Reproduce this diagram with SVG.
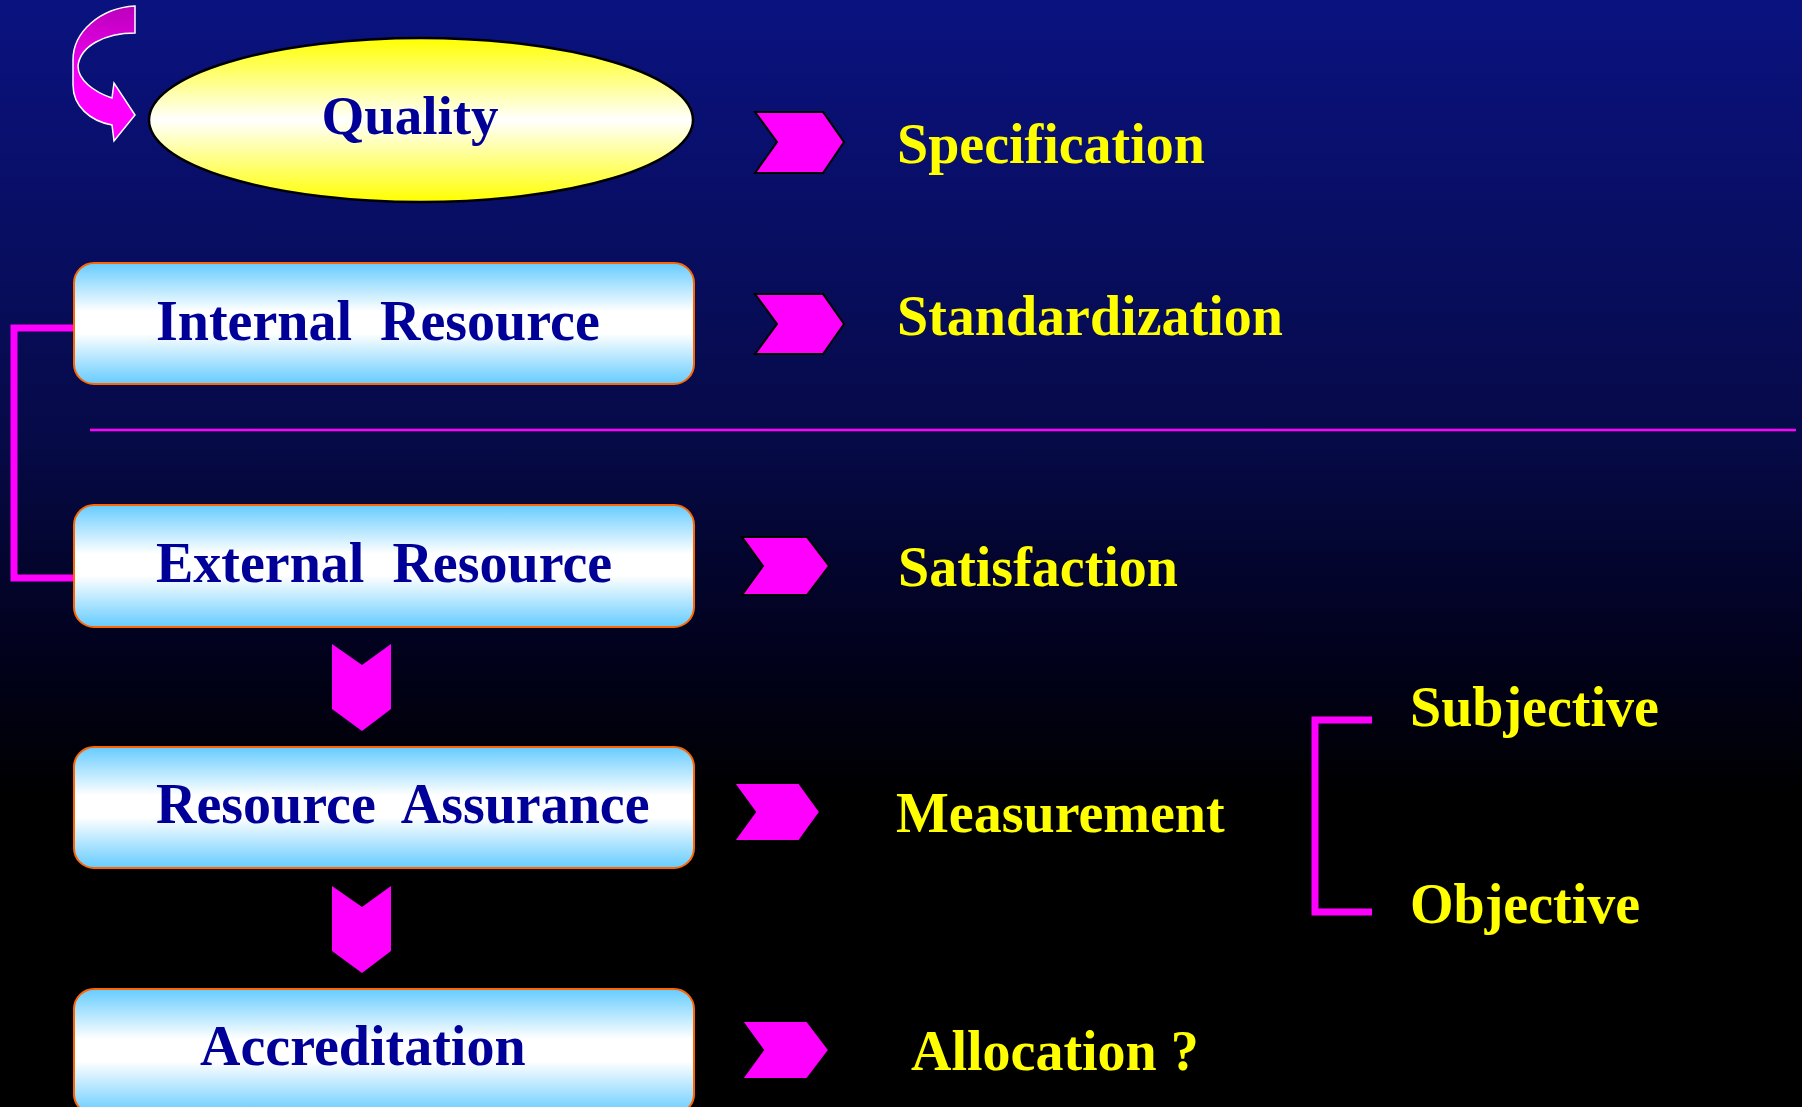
<svg xmlns="http://www.w3.org/2000/svg" width="1802" height="1107" viewBox="0 0 1802 1107">
<defs>
<linearGradient id="bg" x1="0" y1="0" x2="0" y2="1107" gradientUnits="userSpaceOnUse">
<stop offset="0" stop-color="#0A1280"/>
<stop offset="0.39" stop-color="#060A48"/>
<stop offset="0.6" stop-color="#01011A"/>
<stop offset="0.72" stop-color="#000000"/>
<stop offset="1" stop-color="#000000"/>
</linearGradient>
<linearGradient id="ell" x1="0" y1="0" x2="0" y2="1">
<stop offset="0" stop-color="#FFFF00"/>
<stop offset="0.5" stop-color="#FFFFFF"/>
<stop offset="1" stop-color="#FFFF00"/>
</linearGradient>
<linearGradient id="box" x1="0" y1="0" x2="0" y2="1">
<stop offset="0" stop-color="#66CCFF"/>
<stop offset="0.4" stop-color="#FFFFFF"/>
<stop offset="0.58" stop-color="#FFFFFF"/>
<stop offset="1" stop-color="#66CCFF"/>
</linearGradient>
<linearGradient id="curv" x1="0" y1="0" x2="0" y2="1">
<stop offset="0" stop-color="#BB00BB"/>
<stop offset="0.6" stop-color="#FF00FF"/>
<stop offset="1" stop-color="#FF00FF"/>
</linearGradient>
</defs>
<style>
.box{fill:url(#box);stroke:#FF6600;stroke-width:2}
.bt{font-family:"Liberation Serif","Times New Roman",serif;font-weight:bold;font-size:56px;fill:#000099}
.yt{font-family:"Liberation Serif","Times New Roman",serif;font-weight:bold;font-size:56px;fill:#FFFF00}
.chev{fill:#FF00FF;stroke:#000000;stroke-width:2}
.down{fill:#FF00FF}
.br{fill:none;stroke:#FF00FF;stroke-width:7}
</style>
<rect x="0" y="0" width="1802" height="1107" fill="url(#bg)"/>

<g id="connectors">
<path class="br" d="M74,328 H14 V578 H74"/>
<path class="br" d="M1372,720 H1315 V912 H1372"/>
<line x1="90" y1="430" x2="1796" y2="430" stroke="#FF00FF" stroke-width="2.5"/>
<path class="down" d="M332,644 L362,665 L391,644 L391,709 L362,731 L332,709 Z"/>
<path class="down" d="M332,886 L362,907 L391,886 L391,951 L362,973 L332,951 Z"/>
<path class="chev" d="M755,112 L823,112 L844,142 L823,173 L755,173 L777,142 Z"/>
<path class="chev" d="M755,294 L823,294 L844,324 L823,354 L755,354 L777,324 Z"/>
<path class="chev" d="M742,537 L807,537 L829,566 L807,595 L742,595 L763,566 Z"/>
<path class="chev" d="M734,783 L799,783 L820,812 L799,841 L734,841 L755,812 Z"/>
<path class="chev" d="M742,1021 L807,1021 L829,1050 L807,1079 L742,1079 L763,1050 Z"/>
</g>

<g id="loop-arrow">
<path d="M135,6 C100,8 73,32 73,60 L73,85 C73,106 90,121 112,125 L114,141 L135,115 L114,83 L112,98 C94,92 78,80 78,66 C80,46 105,33 135,33 Z" fill="url(#curv)" stroke="#FFFFFF" stroke-width="1.5"/>
</g>

<g id="quality">
<ellipse cx="421" cy="120" rx="272" ry="82" fill="url(#ell)" stroke="#000000" stroke-width="2.5"/>
<text class="bt" x="410" y="134" text-anchor="middle" style="font-size:55px">Quality</text>
</g>

<g id="internal-resource">
<rect class="box" x="74" y="263" width="620" height="121" rx="20"/>
<text class="bt" x="156" y="340" xml:space="preserve">Internal  Resource</text>
</g>

<g id="external-resource">
<rect class="box" x="74" y="505" width="620" height="122" rx="20"/>
<text class="bt" x="156" y="582" xml:space="preserve">External  Resource</text>
</g>

<g id="resource-assurance">
<rect class="box" x="74" y="747" width="620" height="121" rx="20"/>
<text class="bt" x="156" y="823" xml:space="preserve">Resource  Assurance</text>
</g>

<g id="accreditation">
<rect class="box" x="74" y="989" width="620" height="125" rx="20"/>
<text class="bt" x="200" y="1065">Accreditation</text>
</g>

<g id="specification"><text class="yt" x="897" y="163">Specification</text></g>
<g id="standardization"><text class="yt" x="897" y="335">Standardization</text></g>
<g id="satisfaction"><text class="yt" x="898" y="586">Satisfaction</text></g>
<g id="measurement"><text class="yt" x="896" y="832">Measurement</text></g>
<g id="allocation"><text class="yt" x="911" y="1070">Allocation ?</text></g>
<g id="subjective"><text class="yt" x="1410" y="726">Subjective</text></g>
<g id="objective"><text class="yt" x="1410" y="923">Objective</text></g>
</svg>
